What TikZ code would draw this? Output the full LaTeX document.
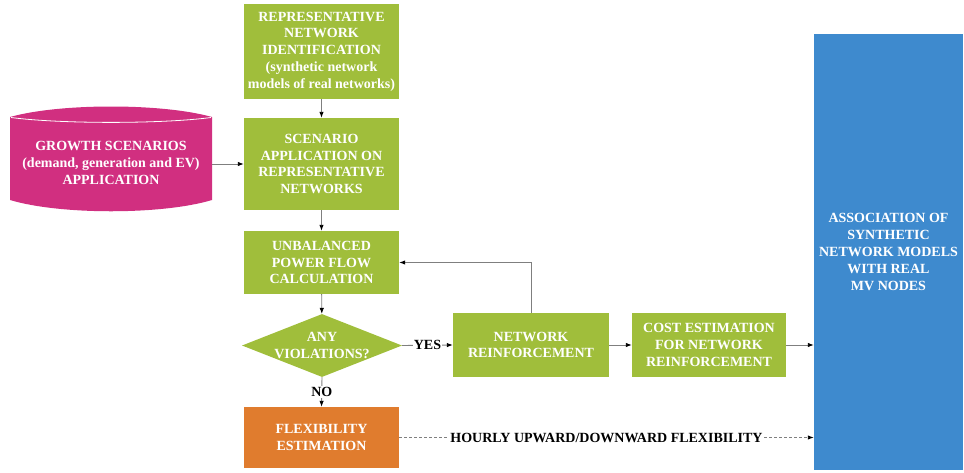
\documentclass[tikz,border=0pt]{standalone}
\usepackage{fontspec}
\setmainfont{Liberation Serif}
\usetikzlibrary{arrows.meta,shapes.geometric}
\definecolor{boxgreen}{HTML}{A0BE3B}
\definecolor{boxmag}{HTML}{D12F80}
\definecolor{boxorange}{HTML}{E07C2E}
\definecolor{boxblue}{HTML}{3E8ACE}
\definecolor{linegray}{HTML}{7F7F7F}
\tikzset{
  txt/.style={font=\bfseries\fontsize{14}{16.8}\selectfont, align=center},
  gbox/.style={txt, draw=none, fill=boxgreen, text=white, inner sep=0pt},
  flow/.style={draw=linegray, line width=0.9pt, -{Latex[length=6pt,width=4.5pt,color=black]}},
  lbl/.style={txt, text=black, fill=white, inner sep=1pt}
}
\begin{document}
\begin{tikzpicture}[x=1pt,y=-1pt]
\useasboundingbox (0,0) rectangle (964,472);
% boxes
\node[gbox, minimum width=155pt, minimum height=95pt] (rep) at (321.5,51.5)
  {REPRESENTATIVE\\NETWORK\\IDENTIFICATION\\(synthetic network\\models of real networks)};
\node[gbox, minimum width=155pt, minimum height=92pt] (scen) at (321.5,164)
  {SCENARIO\\APPLICATION ON\\REPRESENTATIVE\\NETWORKS};
\node[gbox, minimum width=155pt, minimum height=63pt] (ub) at (321.5,262.5)
  {UNBALANCED\\POWER FLOW\\CALCULATION};
\node[diamond, fill=boxgreen, minimum width=160pt, minimum height=63pt, inner sep=0pt] (dia) at (322,345.5) {};
\node[txt, text=white] (diatext) at (dia.center) {ANY\\VIOLATIONS?};
\node[gbox, fill=boxorange, minimum width=155pt, minimum height=61pt] (flex) at (321.5,437.5)
  {FLEXIBILITY\\ESTIMATION};
\node[gbox, minimum width=156pt, minimum height=64pt] (nr) at (531,345)
  {NETWORK\\REINFORCEMENT};
\node[gbox, minimum width=154pt, minimum height=64pt] (cost) at (709,345)
  {COST ESTIMATION\\FOR NETWORK\\REINFORCEMENT};
\node[gbox, fill=boxblue, minimum width=149pt, minimum height=436pt] (assoc) at (888.5,252)
  {ASSOCIATION OF\\SYNTHETIC\\NETWORK MODELS\\WITH REAL\\MV NODES};
% cylinder
\fill[boxmag] (10,117) .. controls (60,103) and (162,103) .. (212,117)
  -- (212,200) .. controls (162,215) and (60,215) .. (10,200) -- cycle;
\draw[white, line width=0.8pt] (11,117.5) .. controls (60,124) and (162,124) .. (211,117.5);
\node[txt, text=white] (grow) at (111,163)
  {GROWTH SCENARIOS\\(demand, generation and EV)\\APPLICATION};
\coordinate (growE) at (212,164);
\coordinate (scenW) at (scen.west |- growE);
% connectors
\draw[flow] (rep) -- (scen);
\draw[flow] (growE) -- (scenW);
\draw[flow] (scen) -- (ub);
\draw[flow] (ub) -- (dia);
\draw[flow] (dia.east) -- node[lbl] {YES} (nr.west);
\draw[flow] (dia.south) -- node[lbl] {NO} (flex.north);
\draw[flow] (nr.north) |- (ub.east);
\draw[flow] (nr) -- (cost);
\draw[flow] (cost.east) -- (cost.east -| assoc.west);
\draw[flow, dashed, dash pattern=on 3pt off 2pt] (flex.east) -- node[lbl] {HOURLY UPWARD/DOWNWARD FLEXIBILITY} (flex.east -| assoc.west);
\end{tikzpicture}
\end{document}
